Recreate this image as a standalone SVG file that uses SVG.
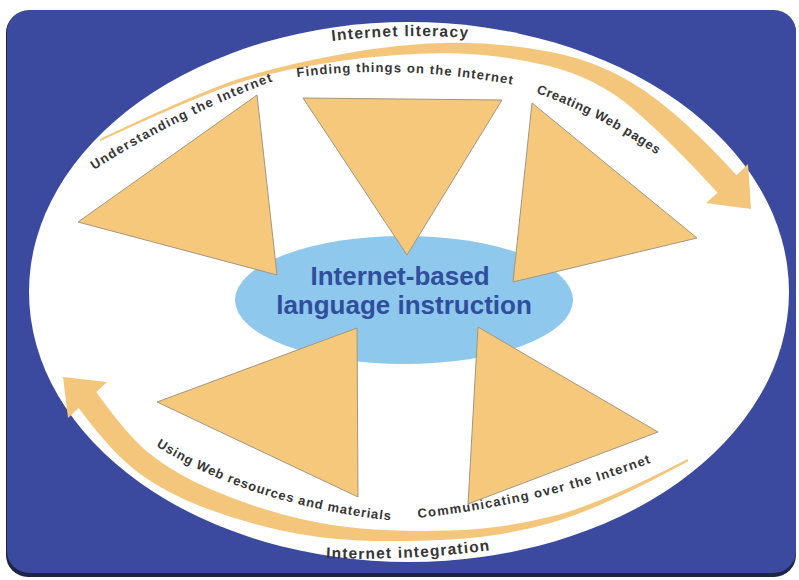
<svg xmlns="http://www.w3.org/2000/svg" width="799" height="580" viewBox="0 0 799 580">
<style>
.tri{fill:#f5c87c;stroke:#a3967f;stroke-width:1}
.arr{fill:#f4c67b}
.lbl{font-family:"Liberation Sans",Arial,sans-serif;font-weight:bold;font-size:13px;fill:#363636}
.big{font-size:15.5px}
.ctr{font-family:"Liberation Sans",Arial,sans-serif;font-weight:bold;font-size:26px;fill:#2f4e9c;text-anchor:middle}
</style>
<defs>
<path id="pLit" d="M332,41 Q400,33 470,38"/>
<path id="pFind" d="M297,77 Q400,64 515,85"/>
<path id="pUnd" d="M94,170 Q175,118 273,81"/>
<path id="pCre" d="M536,93 Q600,115 660,157"/>
<path id="pUse" d="M156,446 Q250,505 395,521"/>
<path id="pCom" d="M418,518 Q540,505 650,463"/>
<path id="pInt" d="M326,558 Q410,561 491,550"/>
</defs>
<rect x="0" y="0" width="799" height="580" fill="#ffffff"/>
<rect x="6" y="11" width="790" height="566" rx="22" fill="#1f2347"/>
<rect x="7" y="10" width="789" height="563" rx="22" fill="#3b499e"/>
<ellipse cx="409" cy="292" rx="380" ry="270" fill="#ffffff"/>
<g id="connectors">
<path id="arrow-literacy" class="arr" d="M100,139 Q199.5,91.6 241,78.3 Q282.6,65 341.1,54.25 Q399.6,43.5 450,42.75 Q500.5,42 552,52.15 Q603.6,62.3 645.15,91.3 Q686.7,120.3 736.5,175.2 L748,164 L751,209 L706,203 L717.5,192.8 Q669.3,139.7 632.85,108.7 Q596.4,77.7 547.95,65.85 Q499.5,54 449.95,53.25 Q400.4,52.5 341.9,60.75 Q283.4,69 241.95,81.7 Q200.5,94.4 100.4,140.9 Z"/>
<path id="arrow-integration" class="arr" d="M63,377 L107,382 L96.3,391.9 Q128.2,436.9 151.65,455.35 Q175.1,473.8 208.95,488.6 Q242.8,503.4 282,514.25 Q321.2,525.1 360.6,528.55 Q400,532 449.65,530.55 Q499.3,529.1 549.3,517.1 Q599.3,505.1 687.5,459.1 L688.5,460.9 Q600.7,508.9 550.7,522.9 Q500.7,536.9 450.35,539.45 Q400,542 359.4,540.45 Q318.8,538.9 278,529.75 Q237.2,520.6 201.05,506.4 Q164.9,492.2 138.35,472.65 Q111.8,453.1 78.7,408.1 L68,418 Z"/>
<text class="lbl big"><textPath href="#pLit" textLength="136" lengthAdjust="spacing">Internet literacy</textPath></text>
<text class="lbl big"><textPath href="#pInt" textLength="164" lengthAdjust="spacing">Internet integration</textPath></text>
</g>
<g id="center">
<ellipse cx="404" cy="300" rx="169" ry="64" fill="#8ec8ec"/>
</g>
<g id="understanding">
<polygon class="tri" points="78,222 257,95 277,275"/>
<text class="lbl"><textPath href="#pUnd" textLength="200" lengthAdjust="spacing">Understanding the Internet</textPath></text>
</g>
<g id="finding">
<polygon class="tri" points="303,98 502,100 407,255"/>
<text class="lbl"><textPath href="#pFind" textLength="216" lengthAdjust="spacing">Finding things on the Internet</textPath></text>
</g>
<g id="creating">
<polygon class="tri" points="532,103 697,238 513,282"/>
<text class="lbl"><textPath href="#pCre" textLength="136" lengthAdjust="spacing">Creating Web pages</textPath></text>
</g>
<g id="using">
<polygon class="tri" points="157,402 357,328 358,497"/>
<text class="lbl"><textPath href="#pUse" textLength="248" lengthAdjust="spacing">Using Web resources and materials</textPath></text>
</g>
<g id="communicating">
<polygon class="tri" points="478,327 658,432 468,504"/>
<text class="lbl"><textPath href="#pCom" textLength="240" lengthAdjust="spacing">Communicating over the Internet</textPath></text>
</g>
<g id="center-label">
<text class="ctr" x="400" y="285">Internet-based</text>
<text class="ctr" x="404" y="314">language instruction</text>
</g>
</svg>
